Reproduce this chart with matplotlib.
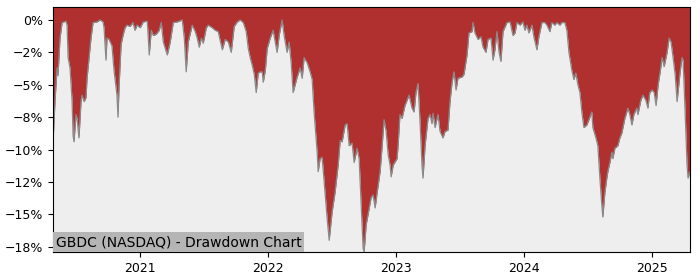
import matplotlib
matplotlib.use("Agg")
import matplotlib.pyplot as plt
import matplotlib.dates as mdates
from matplotlib.ticker import MultipleLocator, PercentFormatter
from matplotlib.offsetbox import AnchoredText
from datetime import datetime, timedelta

# time in decimal years, drawdown in percent
anos = [
    2020.320, 2020.336, 2020.352, 2020.359, 2020.375, 2020.391, 2020.406, 2020.422, 2020.430, 2020.438,
    2020.453, 2020.469, 2020.477, 2020.484, 2020.500, 2020.508, 2020.523, 2020.539, 2020.547, 2020.563,
    2020.578, 2020.586, 2020.602, 2020.617, 2020.633, 2020.664, 2020.688, 2020.711, 2020.719, 2020.734,
    2020.742, 2020.758, 2020.781, 2020.797, 2020.820, 2020.828, 2020.836, 2020.852, 2020.867, 2020.883,
    2020.898, 2020.922, 2020.945, 2020.961, 2020.977, 2021.000, 2021.023, 2021.055, 2021.070, 2021.086,
    2021.102, 2021.125, 2021.148, 2021.164, 2021.180, 2021.211, 2021.234, 2021.258, 2021.289, 2021.328,
    2021.344, 2021.359, 2021.375, 2021.406, 2021.430, 2021.445, 2021.461, 2021.477, 2021.492, 2021.516,
    2021.531, 2021.563, 2021.586, 2021.609, 2021.641, 2021.664, 2021.688, 2021.711, 2021.734, 2021.758,
    2021.781, 2021.805, 2021.828, 2021.844, 2021.859, 2021.875, 2021.891, 2021.906, 2021.922, 2021.938,
    2021.953, 2021.961, 2021.977, 2021.992, 2022.016, 2022.039, 2022.055, 2022.070, 2022.086, 2022.109,
    2022.125, 2022.148, 2022.164, 2022.180, 2022.195, 2022.227, 2022.250, 2022.266, 2022.281, 2022.305,
    2022.328, 2022.344, 2022.359, 2022.383, 2022.391, 2022.406, 2022.422, 2022.438, 2022.461, 2022.477,
    2022.500, 2022.523, 2022.547, 2022.563, 2022.578, 2022.602, 2022.617, 2022.633, 2022.656, 2022.672,
    2022.695, 2022.711, 2022.727, 2022.742, 2022.750, 2022.766, 2022.781, 2022.805, 2022.820, 2022.836,
    2022.852, 2022.875, 2022.891, 2022.906, 2022.922, 2022.938, 2022.953, 2022.961, 2022.977, 2023.008,
    2023.016, 2023.031, 2023.047, 2023.070, 2023.094, 2023.102, 2023.125, 2023.141, 2023.156, 2023.172,
    2023.188, 2023.203, 2023.211, 2023.227, 2023.250, 2023.266, 2023.281, 2023.289, 2023.305, 2023.328,
    2023.344, 2023.367, 2023.383, 2023.406, 2023.422, 2023.438, 2023.453, 2023.469, 2023.484, 2023.516,
    2023.531, 2023.555, 2023.570, 2023.594, 2023.602, 2023.617, 2023.641, 2023.664, 2023.680, 2023.703,
    2023.719, 2023.742, 2023.758, 2023.773, 2023.789, 2023.805, 2023.820, 2023.836, 2023.867, 2023.891,
    2023.914, 2023.930, 2023.945, 2023.969, 2023.992, 2024.008, 2024.023, 2024.039, 2024.063, 2024.078,
    2024.102, 2024.117, 2024.141, 2024.164, 2024.180, 2024.203, 2024.219, 2024.242, 2024.258, 2024.281,
    2024.297, 2024.320, 2024.336, 2024.352, 2024.375, 2024.391, 2024.406, 2024.422, 2024.438, 2024.453,
    2024.469, 2024.492, 2024.508, 2024.531, 2024.539, 2024.563, 2024.578, 2024.594, 2024.609, 2024.617,
    2024.633, 2024.648, 2024.656, 2024.672, 2024.688, 2024.695, 2024.711, 2024.734, 2024.750, 2024.766,
    2024.789, 2024.813, 2024.828, 2024.844, 2024.859, 2024.883, 2024.891, 2024.914, 2024.930, 2024.953,
    2024.969, 2024.984, 2025.000, 2025.016, 2025.031, 2025.047, 2025.063, 2025.078, 2025.094, 2025.117,
    2025.133, 2025.148, 2025.164, 2025.180, 2025.195, 2025.219, 2025.234, 2025.242, 2025.258, 2025.273,
    2025.281, 2025.296,
]
drawdown = [
    -9.5, -6.2, -3.7, -4.3, -1.4, -0.2, -0.15, -0.1, -0.4, -2.9,
    -3.7, -6.2, -8.9, -9.4, -7.3, -7.6, -9.1, -6.3, -5.8, -6.3,
    -6.0, -4.5, -2.9, -1.4, -0.2, -0.15, 0.0, -0.15, -0.6, -3.1,
    -1.4, -1.5, -2.0, -3.9, -5.8, -7.5, -5.2, -1.9, -1.2, -0.6,
    -0.4, -0.5, -0.2, -0.8, -0.4, -0.6, -0.15, -0.1, -2.7, -0.8,
    -1.2, -1.1, -0.8, -0.2, -1.7, -2.7, -1.7, -0.2, -0.15, 0.0,
    -1.4, -4.0, -1.7, -0.4, -0.9, -1.4, -2.1, -1.4, -1.8, -0.6,
    -0.4, -0.6, -0.8, -0.9, -2.3, -1.5, -1.7, -2.5, -0.5, -0.15,
    0.0, -0.2, -0.9, -2.2, -2.9, -3.5, -4.2, -5.6, -4.1, -4.0,
    -4.0, -4.8, -3.9, -2.2, -1.4, -0.8, -1.7, -2.5, -1.2, 0.0,
    -1.2, -2.5, -1.7, -3.3, -5.6, -4.4, -3.7, -4.5, -2.9, -3.3,
    -4.0, -4.6, -7.1, -10.2, -11.7, -10.7, -10.6, -12.5, -15.3, -17.0,
    -14.8, -13.3, -11.2, -9.3, -9.4, -8.1, -8.0, -9.7, -9.5, -11.0,
    -9.9, -10.7, -14.3, -17.6, -17.9, -15.8, -15.0, -13.7, -13.5, -14.5,
    -13.3, -11.7, -9.7, -7.7, -8.6, -10.4, -11.2, -12.1, -11.2, -10.7,
    -9.7, -7.3, -7.6, -6.6, -6.0, -5.8, -6.8, -7.1, -5.6, -4.9,
    -7.9, -11.2, -12.2, -9.7, -7.6, -7.3, -8.0, -7.2, -8.3, -7.3,
    -8.6, -9.1, -8.6, -8.5, -6.3, -4.8, -4.0, -5.4, -4.5, -4.4,
    -4.2, -2.7, -1.0, -0.9, -0.2, -1.0, -1.5, -1.3, -2.1, -2.5,
    -1.5, -1.4, -3.1, -2.3, -0.9, -2.5, -3.2, -0.9, -0.2, -0.15,
    -1.2, -1.0, -0.2, -0.4, -0.15, -0.8, -0.4, -1.0, -0.4, -1.3,
    -2.3, -1.3, -0.2, -0.2, -0.4, -0.9, -0.2, -0.4, -0.2, -0.4,
    -0.2, -0.2, -0.8, -2.5, -3.9, -4.6, -4.1, -5.0, -5.6, -7.1,
    -8.3, -8.1, -7.7, -7.1, -8.3, -9.1, -9.7, -12.2, -14.3, -15.2,
    -13.3, -12.2, -11.7, -11.0, -10.2, -10.7, -9.9, -9.7, -9.1, -8.7,
    -7.6, -6.8, -7.3, -8.1, -7.3, -6.8, -7.3, -6.2, -5.8, -6.2,
    -6.8, -5.6, -5.4, -5.6, -6.6, -5.0, -4.0, -2.9, -3.6, -2.5,
    -1.4, -1.7, -2.9, -4.2, -6.3, -4.0, -2.9, -3.1, -7.1, -11.2,
    -12.2, -11.7,
]

titulo = "GBDC (NASDAQ) - Drawdown Chart"


def AnoParaData(a):
    base = datetime(int(a), 1, 1)
    return base + timedelta(days=(a - int(a)) * 365.25)


def GerarGrafico():
    datas = [AnoParaData(a) for a in anos]
    topo = 1.0
    fig = plt.figure(figsize=(7, 2.8), dpi=100)
    ax = fig.add_axes([0.0757, 0.1, 0.91, 0.875])
    ax.set_facecolor('#eeeeee')
    # area vermelha acima da curva
    ax.fill_between(datas, drawdown, topo, color='#b03030', linewidth=0)
    ax.plot(datas, drawdown, color='#8a8a8a', linewidth=0.9)
    ax.set_xlim(datas[0], datas[-1])
    ax.set_ylim(min(drawdown), topo)
    ax.yaxis.set_major_locator(MultipleLocator(2.5))
    ax.yaxis.set_major_formatter(PercentFormatter(decimals=0))
    ax.xaxis.set_major_locator(mdates.YearLocator())
    ax.xaxis.set_major_formatter(mdates.DateFormatter('%Y'))
    ax.tick_params(labelsize=9)
    caixa = AnchoredText(titulo, loc='lower left', pad=0.2, borderpad=0,
                         frameon=True, prop=dict(size=10))
    caixa.patch.set_facecolor('#b5b5b5')
    caixa.patch.set_edgecolor('none')
    ax.add_artist(caixa)
    fig.savefig('out.png')
    plt.close(fig)


GerarGrafico()
